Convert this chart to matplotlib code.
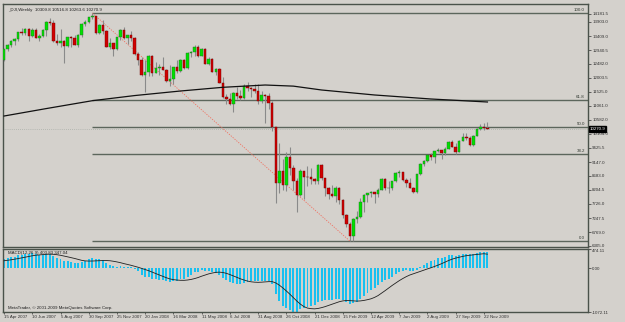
import numpy as np
import matplotlib
matplotlib.use("Agg")
from matplotlib import pyplot as plt

plt.rcParams['font.family'] = ['Liberation Sans', 'DejaVu Sans']

# weekly DJI bars, 15 Apr 2007 .. 29 Nov 2009 (index = week number)
opens = [12612, 12962, 13121, 13265, 13326, 13557, 13507, 13668, 13424, 13639,
         13360, 13409, 13612, 13907, 13851, 13265, 13182, 13240, 13079, 13379,
         13358, 13113, 13443, 13820, 13896, 14066, 14093, 13522, 13807, 13595,
         13043, 13177, 12981, 13372, 13626, 13340, 13451, 13366, 12800, 12606,
         12099, 12207, 12743, 12182, 12348, 12381, 12266, 11894, 11951, 12361,
         12216, 12609, 12325, 12849, 12892, 13058, 12746, 12987, 12480, 12638,
         12210, 12307, 11843, 11347, 11289, 11101, 11497, 11371, 11326, 11734,
         11660, 11628, 11544, 11221, 11422, 11388, 11143, 10325, 8451, 8852,
         8379, 9325, 8944, 8497, 8046, 8829, 8635, 8630, 8579, 8516,
         9035, 8599, 8281, 8078, 8001, 8281, 7850, 7366, 7063, 6627,
         7224, 7278, 7776, 8018, 8083, 8131, 8076, 8212, 8575, 8269,
         8277, 8500, 8763, 8799, 8540, 8438, 8281, 8147, 8744, 9093,
         9172, 9370, 9321, 9506, 9544, 9441, 9605, 9820, 9665, 9488,
         9865, 9996, 9972, 9713, 10023, 10270, 10318, 10310]
highs = [12962, 13160, 13285, 13365, 13560, 13690, 13690, 13692, 13700, 13690,
         13500, 13640, 13930, 14022, 13960, 13480, 13660, 13280, 13400, 13410,
         13460, 13480, 13870, 13960, 14080, 14198, 14110, 13830, 13960, 13620,
         13350, 13190, 13380, 13660, 13730, 13470, 13600, 13370, 12890, 12720,
         12600, 12770, 12760, 12550, 12470, 12700, 12300, 12420, 12380, 12600,
         12650, 12630, 12860, 12920, 13100, 13130, 13010, 13000, 12700, 12660,
         12340, 12330, 12030, 11460, 11480, 11520, 11700, 11590, 11790, 11860,
         11700, 11790, 11800, 11560, 11450, 11500, 11200, 10350, 9800, 9260,
         9500, 9654, 9060, 8600, 8900, 8830, 9000, 8960, 8600, 9070,
         9090, 8620, 8300, 8380, 8320, 8300, 7900, 7400, 7100, 7240,
         7500, 7930, 8080, 8110, 8180, 8130, 8250, 8600, 8590, 8520,
         8510, 8800, 8880, 8800, 8600, 8590, 8290, 8750, 9100, 9200,
         9400, 9440, 9530, 9630, 9560, 9640, 9850, 9900, 9790, 9880,
         10120, 10120, 10020, 10060, 10290, 10420, 10480, 10517]
lows = [12560, 12900, 13030, 13120, 13250, 13440, 13470, 13250, 13380, 13340,
        13250, 13400, 13430, 13780, 13225, 13120, 13050, 12518, 13040, 13030,
        13100, 13030, 13400, 13770, 13850, 13990, 13500, 13480, 13500, 13030,
        12990, 12725, 12960, 13300, 13310, 13160, 13250, 12780, 12420, 12070,
        11508, 12070, 12050, 12160, 12100, 12260, 11850, 11730, 11800, 12180,
        12200, 12300, 12290, 12700, 12750, 12720, 12740, 12460, 12420, 12200,
        12100, 11840, 11320, 11130, 11080, 10827, 11300, 11240, 11300, 11560,
        11350, 11500, 11100, 11160, 10460, 10950, 10200, 7773, 8088, 8200,
        8150, 8720, 8200, 7450, 8000, 7880, 8350, 8400, 8400, 8400,
        8550, 8000, 7910, 7960, 7800, 7730, 7250, 6940, 6470, 6470,
        7070, 7250, 7450, 7800, 7950, 7760, 7960, 8190, 8200, 8100,
        8200, 8480, 8650, 8500, 8290, 8270, 8100, 8090, 8700, 9000,
        9150, 9200, 9120, 9480, 9250, 9400, 9590, 9650, 9430, 9480,
        9850, 9880, 9680, 9700, 10020, 10220, 10230, 10264]
closes = [12962, 13121, 13265, 13326, 13557, 13507, 13668, 13424, 13639, 13360,
          13409, 13612, 13907, 13851, 13265, 13182, 13240, 13079, 13379, 13358,
          13113, 13443, 13820, 13896, 14066, 14093, 13522, 13807, 13595, 13043,
          13177, 12981, 13372, 13626, 13340, 13451, 13366, 12800, 12606, 12099,
          12207, 12743, 12182, 12348, 12381, 12266, 11894, 11951, 12361, 12216,
          12609, 12325, 12849, 12892, 13058, 12746, 12987, 12480, 12638, 12210,
          12307, 11843, 11347, 11289, 11101, 11497, 11371, 11326, 11734, 11660,
          11628, 11544, 11221, 11422, 11388, 11143, 10325, 8451, 8852, 8379,
          9325, 8944, 8497, 8046, 8829, 8635, 8630, 8579, 8516, 9035,
          8599, 8281, 8078, 8001, 8281, 7850, 7366, 7063, 6627, 7224,
          7278, 7776, 8018, 8083, 8131, 8076, 8212, 8575, 8269, 8277,
          8500, 8763, 8799, 8540, 8438, 8281, 8147, 8744, 9093, 9172,
          9370, 9321, 9506, 9544, 9441, 9605, 9820, 9665, 9488, 9865,
          9996, 9972, 9713, 10023, 10270, 10318, 10310, 10271]

# MACD(12,26,9) main (histogram) and signal
macd_main = [224, 245, 269, 290, 322, 339, 362, 356, 364, 344,
             328, 329, 349, 356, 311, 265, 231, 189, 177, 164,
             132, 133, 162, 189, 222, 247, 219, 217, 196, 133,
             93, 45, 38, 52, 40, 38, 30, -22, -78, -162,
             -217, -214, -255, -270, -276, -287, -322, -341, -319, -311,
             -269, -256, -201, -152, -99, -82, -48, -61, -58, -89,
             -105, -152, -227, -288, -347, -358, -373, -383, -354, -334,
             -317, -306, -320, -311, -303, -313, -382, -640, -800, -930,
             -980, -1030, -1060, -1072, -1010, -975, -945, -915, -890, -820,
             -790, -780, -780, -775, -745, -745, -775, -815, -870, -855,
             -830, -762, -680, -603, -533, -476, -415, -333, -290, -252,
             -202, -139, -86, -63, -53, -57, -71, -33, 25, 77,
             133, 171, 213, 247, 262, 284, 315, 324, 313, 331,
             351, 361, 345, 353, 374, 391, 399, 404]
macd_signal = [186, 197, 209, 223, 239, 256, 275, 291, 308, 321,
               330, 337, 344, 347, 344, 334, 320, 300, 282, 263,
               242, 218, 196, 182, 178, 179, 183, 187, 191, 191,
               186, 173, 157, 138, 115, 95, 74, 50, 26, -2,
               -31, -59, -93, -128, -163, -198, -231, -260, -278, -288,
               -294, -295, -287, -273, -252, -226, -193, -164, -136, -116,
               -99, -94, -102, -123, -153, -187, -222, -258, -287, -313,
               -331, -340, -344, -340, -333, -327, -327, -358, -412, -480,
               -555, -635, -719, -805, -880, -940, -976, -990, -995, -985,
               -965, -940, -910, -880, -850, -820, -800, -790, -793, -800,
               -805, -800, -788, -770, -748, -714, -669, -610, -548, -484,
               -420, -360, -303, -251, -204, -164, -135, -106, -75, -44,
               -14, 14, 45, 78, 114, 153, 192, 225, 251, 273,
               293, 310, 321, 331, 341, 349, 358, 347]

# long moving average (black curve), sampled at bar indices
ma_idx = [0, 12, 25, 37, 50, 62, 74, 82, 90, 105, 121, 137]
ma_val = [10707, 10960, 11226, 11400, 11555, 11680, 11758, 11720, 11589, 11420, 11284, 11182]

fib_high, fib_low = 14198.1, 6469.9
fib_high_i, fib_low_i = 25, 98
fib_levels = [0.0, 38.2, 50.0, 61.8, 100.0]

price_ticks = [14181.5, 13903.0, 13409.0, 12940.5, 12482.0, 12003.5, 11525.0, 11061.0,
               10582.0, 10104.0, 9625.5, 9147.0, 8683.0, 8204.5, 7726.0, 7247.5, 6769.0, 6305.0]
date_labels = ["15 Apr 2007", "10 Jun 2007", "5 Aug 2007", "30 Sep 2007", "25 Nov 2007",
               "20 Jan 2008", "16 Mar 2008", "11 May 2008", "6 Jul 2008", "31 Aug 2008",
               "26 Oct 2008", "21 Dec 2008", "15 Feb 2009", "12 Apr 2009", "7 Jun 2009",
               "2 Aug 2009", "27 Sep 2009", "22 Nov 2009"]
last_price = 10270.9

bg = "#d4d1cc"
frame = "#4a524a"
fs = 3.2
W, H = 625, 322
fig = plt.figure(figsize=(W / 100, H / 100), dpi=100, facecolor=bg)
ax = fig.add_axes([3 / W, 1 - 247 / H, 585 / W, 243 / H], facecolor=bg)
mx = fig.add_axes([3 / W, 1 - 312 / H, 585 / W, 63 / H], facecolor=bg, sharex=ax)

idx = np.arange(len(closes))
o = np.array(opens); c = np.array(closes); h = np.array(highs); l = np.array(lows)
up = c >= o

# candles
ax.vlines(idx, l, h, color="#8a8a8a", lw=0.8, zorder=3)
ax.bar(idx[up], (c - o)[up], bottom=o[up], width=0.7, color="#00e000",
       edgecolor="#2a6a2a", lw=0.3, zorder=4)
ax.bar(idx[~up], (o - c)[~up], bottom=c[~up], width=0.7, color="#d00000",
       edgecolor="#700000", lw=0.3, zorder=4)

# moving average
ax.plot(ma_idx, ma_val, color="#111111", lw=0.9, zorder=5)

# fibonacci retracement
x_end = 165.5
for lv in fib_levels:
    p = fib_low + (fib_high - fib_low) * lv / 100
    ax.hlines(p, fib_high_i, x_end, color="#5c665c", lw=1.0, zorder=2)
    ax.text(164.6, p + 40, "%.1f" % lv, fontsize=fs, color="#303830",
            ha="right", va="bottom", zorder=6)
ax.plot([fib_high_i, fib_low_i], [fib_high, fib_low], color="#f07060", lw=0.6,
        ls=(0, (1.5, 1.5)), zorder=2)

# price line
ax.axhline(last_price, color="#9aa09a", lw=0.5, ls=(0, (1, 2)), zorder=1)

ax.set_xlim(-0.3, x_end)
ax.set_ylim(6267, 14504)
ax.yaxis.tick_right()
ax.set_yticks(price_ticks)
ax.set_yticklabels(["%.1f" % v for v in price_ticks])
ax.tick_params(axis="y", labelsize=fs, length=2, width=0.5, pad=1, colors="#303030")
ax.tick_params(axis="x", bottom=False, labelbottom=False)
ax.text(1.002, last_price, "%.1f" % last_price, transform=ax.get_yaxis_transform(),
        fontsize=fs, color="white", ha="left", va="center", zorder=7,
        bbox=dict(boxstyle="square,pad=0.15", fc="black", ec="black"), clip_on=False)
ax.text(0.008, 0.985, "_DJI,Weekly  10309.8 10516.8 10263.6 10270.9", transform=ax.transAxes,
        fontsize=fs, color="#202020", ha="left", va="top")

# MACD panel
mx.bar(idx, macd_main, width=0.55, color="#18c0f0", lw=0, zorder=2)
mx.plot(idx, macd_signal, color="#202020", lw=0.6, zorder=3)
mx.set_ylim(-1072.11, 474.11)
mx.yaxis.tick_right()
mx.set_yticks([474.11, 0.0, -1072.11])
mx.set_yticklabels(["474.11", "0.00", "-1072.11"])
mx.tick_params(axis="y", labelsize=fs, length=2, width=0.5, pad=1, colors="#303030")
for t in mx.get_yticklabels()[:1]:
    t.set_va("top")
mx.set_xticks(idx[::8])
mx.set_xticklabels(date_labels, ha="left")
mx.tick_params(axis="x", labelsize=fs, length=1.5, width=0.5, pad=0.5, colors="#303030")
mx.text(0.008, 0.97, "MACD(12,26,9) 403.83 347.04", transform=mx.transAxes,
        fontsize=fs, color="#202020", ha="left", va="top")
mx.text(0.008, 0.03, "MetaTrader, \u00a9 2001-2009 MetaQuotes Software Corp.", transform=mx.transAxes,
        fontsize=fs, color="#202020", ha="left", va="bottom")

for a in (ax, mx):
    for s in a.spines.values():
        s.set_color(frame)
        s.set_linewidth(1.0)

fig.savefig("out.png", dpi=100, facecolor=bg)
